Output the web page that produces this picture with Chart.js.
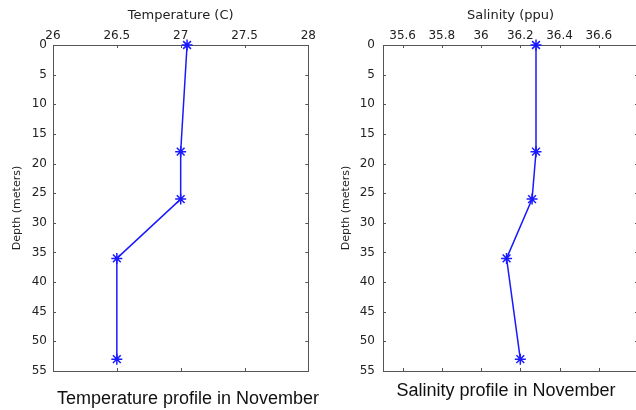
<!DOCTYPE html>
<html>
<head>
<meta charset="utf-8">
<script src="https://cdn.jsdelivr.net/npm/chart.js@4/dist/chart.umd.min.js"></script>
<style>
  body { margin: 0; width: 636px; height: 410px; overflow: hidden; background: #fff; position: relative; }
  canvas { position: absolute; top: 0; }
  .caption { position: absolute; font-family: 'Liberation Sans', sans-serif; font-size: 18px; color: #111; white-space: nowrap; transform: translate(-50%, -50%); }
</style>
</head>
<body>
<canvas id="tempChart" width="318" height="410" style="left:0"></canvas>
<canvas id="salChart" width="320" height="410" style="left:318px"></canvas>
<div class="caption" style="left:188px; top:398px">Temperature profile in November</div>
<div class="caption" style="left:506px; top:390px">Salinity profile in November</div>
<script>
    const depth = [0, 18, 26, 36, 53];
    const temperature = [27.05, 27.0, 27.0, 26.5, 26.5];
    const salinity = [36.28, 36.28, 36.26, 36.13, 36.2];

    const tempTicks = [26, 26.5, 27, 27.5, 28];
    const salTicks = [35.6, 35.8, 36, 36.2, 36.4, 36.6];
    const depthTicks = [0, 5, 10, 15, 20, 25, 30, 35, 40, 45, 50, 55];

    const lineColor = '#1a1aff';
    const boxColor = '#555';

    // matlab style box with inward tick marks
    const boxTicks = {
      id: 'boxTicks',
      beforeDatasetsDraw(chart) {
        const { ctx, chartArea: a, scales: { x, y } } = chart;
        ctx.save();
        ctx.strokeStyle = boxColor;
        ctx.lineWidth = 1;
        ctx.strokeRect(Math.round(a.left) + 0.5, Math.round(a.top) + 0.5,
          Math.round(a.right - a.left), Math.round(a.bottom - a.top));
        ctx.beginPath();
        x.ticks.forEach(t => {
          const px = Math.round(x.getPixelForValue(t.value)) + 0.5;
          ctx.moveTo(px, a.top); ctx.lineTo(px, a.top + 3);
          ctx.moveTo(px, a.bottom); ctx.lineTo(px, a.bottom - 3);
        });
        y.ticks.forEach(t => {
          const py = Math.round(y.getPixelForValue(t.value)) + 0.5;
          ctx.moveTo(a.left, py); ctx.lineTo(a.left + 3, py);
          ctx.moveTo(a.right, py); ctx.lineTo(a.right - 3, py);
        });
        ctx.stroke();
        ctx.restore();
      }
    };

    function makeChart(id, values, xMin, xMax, xTicks, xTitle, yWidth, yTitlePad, yLabelPad, padRight) {
      const ctx = document.getElementById(id).getContext('2d');
      return new Chart(ctx, {
        type: 'scatter',
        data: {
          datasets: [{
            data: depth.map((d, i) => ({ x: values[i], y: d })),
            showLine: true,
            borderColor: lineColor,
            borderWidth: 1.5,
            pointStyle: 'star',
            pointRadius: 5.5,
            pointBorderWidth: 1.5,
            pointBorderColor: lineColor,
            pointBackgroundColor: lineColor,
            clip: false
          }]
        },
        options: {
          responsive: false,
          animation: false,
          layout: { autoPadding: false, padding: { left: 0, right: padRight, top: 0, bottom: 39 } },
          plugins: { legend: { display: false }, tooltip: { enabled: false } },
          scales: {
            x: {
              type: 'linear',
              position: 'top',
              min: xMin,
              max: xMax,
              afterBuildTicks: s => { s.ticks = xTicks.map(v => ({ value: v })); },
              afterFit: s => { s.height = 45; },
              grid: { display: false, drawTicks: false },
              border: { display: false },
              ticks: {
                padding: 2,
                color: '#222',
                font: { family: 'DejaVu Sans', size: 12 },
                callback: v => String(v)
              },
              title: {
                display: true,
                text: xTitle,
                color: '#222',
                font: { family: 'DejaVu Sans', size: 13 },
                padding: { top: 8, bottom: 0 }
              }
            },
            y: {
              type: 'linear',
              reverse: true,
              min: 0,
              max: 55,
              afterBuildTicks: s => { s.ticks = depthTicks.map(v => ({ value: v })); },
              afterFit: s => { s.width = yWidth; },
              grid: { display: false, drawTicks: false },
              border: { display: false },
              ticks: {
                padding: yLabelPad,
                color: '#222',
                font: { family: 'DejaVu Sans', size: 12 }
              },
              title: {
                display: true,
                text: 'Depth (meters)',
                color: '#222',
                font: { family: 'DejaVu Sans', size: 11 },
                padding: { top: yTitlePad, bottom: 0 }
              }
            }
          }
        },
        plugins: [boxTicks]
      });
    }

    makeChart('tempChart', temperature, 26, 28, tempTicks, 'Temperature (C)', 53, 11, 6, 9);
    makeChart('salChart', salinity, 35.5, 36.8, salTicks, 'Salinity (ppu)', 65, 22, 8, 0);
</script>
</body>
</html>
